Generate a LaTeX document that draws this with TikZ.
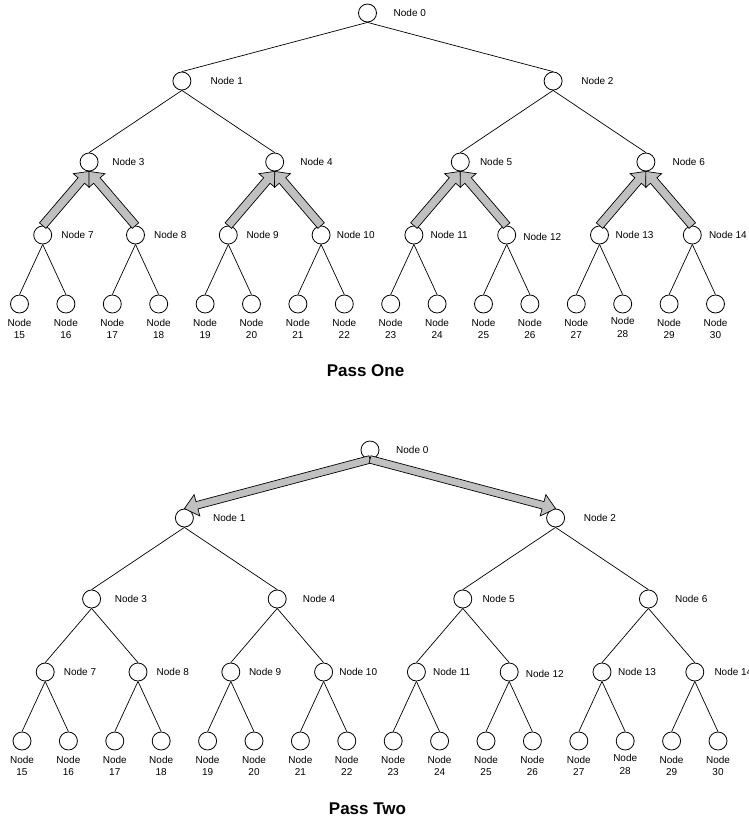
\documentclass[tikz,border=0pt]{standalone}
\usepackage{fontspec}
\setmainfont{Liberation Sans}
\usetikzlibrary{calc}
\definecolor{arrowgray}{RGB}{192,192,192}
\tikzset{
  x=1pt, y=-1pt,
  treenode/.style={circle, draw, line width=0.8pt, minimum size=18pt, inner sep=0pt},
  nodelabel/.style={anchor=west, inner sep=0pt, font=\fontsize{10}{12}\selectfont},
  leaflabel/.style={anchor=north, inner sep=0pt, align=center, font=\fontsize{10}{12.5}\selectfont},
  edge/.style={line width=0.7pt},
  barrow/.style={draw, line width=0.7pt, fill=arrowgray, line join=miter},
  passtitle/.style={font=\fontsize{17}{20}\selectfont\bfseries, inner sep=0pt}
}
% block arrow: #1 start, #2 tip, #3 half shaft width, #4 half head width, #5 head length
\newcommand{\blockarr}[5]{%
  \path (#2) coordinate (ba-tip) ($(#2)!#5!(#1)$) coordinate (ba-c);
  \draw[barrow] ($(#1)!#3!90:(#2)$) -- ($(ba-c)!#3!90:(ba-tip)$) -- ($(ba-c)!#4!90:(ba-tip)$)
    -- (ba-tip) -- ($(ba-c)!#4!-90:(ba-tip)$) -- ($(ba-c)!#3!-90:(ba-tip)$)
    -- ($(#1)!#3!-90:(#2)$) -- cycle;
}
% tree: #1 prefix, #2 x of leftmost leaf, #3 y of root, #4 label offset of node 14
\newcommand{\placetree}[4]{%
  \pgfmathsetmacro{\tx}{#2+46.4*7.5}
  \node[treenode] (#1-0) at (\tx,#3) {};
  \node[nodelabel] at ([xshift=26pt]#1-0.center) {Node 0};
  \foreach \j/\dx in {0/28.5,1/28} {
    \pgfmathsetmacro{\tx}{#2+46.4*(8*\j+3.5)}
    \pgfmathtruncatemacro{\n}{1+\j}
    \node[treenode] (#1-\n) at (\tx,#3+68) {};
    \node[nodelabel] at ([xshift=\dx pt]#1-\n.center) {Node \n};
  }
  \foreach \j/\dx in {0/23,1/25.5,2/19.5,3/26.5} {
    \pgfmathsetmacro{\tx}{#2+46.4*(4*\j+1.5)}
    \pgfmathtruncatemacro{\n}{3+\j}
    \node[treenode] (#1-\n) at (\tx,#3+149) {};
    \node[nodelabel] at ([xshift=\dx pt]#1-\n.center) {Node \n};
  }
  \foreach \j/\dx/\dy in {0/18.5/0,1/18.5/0,2/18/0,3/15.5/0,4/16.5/0,5/16.5/-2,6/16/0,7/#4/0} {
    \pgfmathsetmacro{\tx}{#2+46.4*(2*\j+0.5)}
    \pgfmathtruncatemacro{\n}{7+\j}
    \node[treenode] (#1-\n) at (\tx,#3+222) {};
    \node[nodelabel] at ([xshift=\dx pt,yshift=\dy pt]#1-\n.center) {Node \n};
  }
  \foreach \k/\dy in {0/0,1/0,2/0,3/0,4/0,5/0,6/0,7/0,8/0,9/0,10/0,11/0,12/0,13/1.5,14/0,15/0} {
    \pgfmathsetmacro{\tx}{#2+46.4*\k}
    \pgfmathtruncatemacro{\n}{15+\k}
    \node[treenode] (#1-\n) at (\tx,#3+291) {};
    \node[leaflabel] at ([yshift=-14.8pt+\dy pt]#1-\n.center) {Node\\\n};
  }
}
\begin{document}
\begin{tikzpicture}
\useasboundingbox (0,0) rectangle (748,823);

% ---------- Pass One ----------
\placetree{a}{19.5}{13}{16.5}
\foreach \p in {0,1,2,7,8,9,10,11,12,13,14} {
  \pgfmathtruncatemacro{\cl}{2*\p+1}
  \pgfmathtruncatemacro{\cr}{2*\p+2}
  \draw[edge] (a-\p.south) -- (a-\cl.north);
  \draw[edge] (a-\p.south) -- (a-\cr.north);
}
\foreach \p in {3,4,5,6} {
  \pgfmathtruncatemacro{\cl}{2*\p+1}
  \pgfmathtruncatemacro{\cr}{2*\p+2}
  \blockarr{a-\cl.north}{a-\p.south}{4.25pt}{10.5pt}{12pt}
  \blockarr{a-\cr.north}{a-\p.south}{4.25pt}{10.5pt}{12pt}
}
\node[passtitle] (t1) at (365.5,371) {Pass One};

% ---------- Pass Two ----------
\placetree{b}{22}{450}{19.5}
\foreach \p in {1,2,...,14} {
  \pgfmathtruncatemacro{\cl}{2*\p+1}
  \pgfmathtruncatemacro{\cr}{2*\p+2}
  \draw[edge] (b-\p.south) -- (b-\cl.north);
  \draw[edge] (b-\p.south) -- (b-\cr.north);
}
\blockarr{b-0.south}{b-1.north}{3.8pt}{11pt}{13pt}
\blockarr{b-0.south}{b-2.north}{3.8pt}{11pt}{13pt}
\node[passtitle] (t2) at (367.5,808.5) {Pass Two};
\end{tikzpicture}
\end{document}
